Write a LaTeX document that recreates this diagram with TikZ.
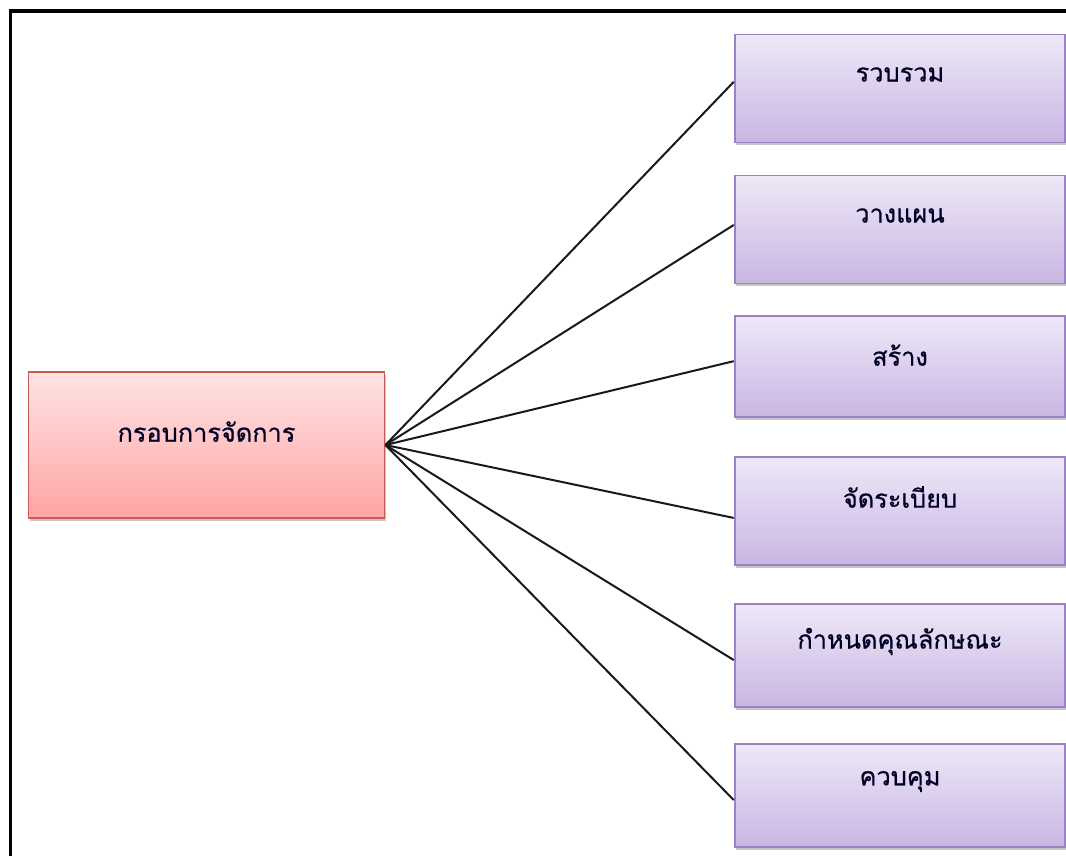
\documentclass[tikz,border=0pt]{standalone}
\usepackage{fontspec}
\newfontfamily\thaifont[Script=Thai, FakeBold=0.6]{Loma}
\usetikzlibrary{shadows}
\definecolor{purpletop}{HTML}{EEE8F7}
\definecolor{purplebot}{HTML}{C9B6E3}
\definecolor{purpleline}{HTML}{9A82C4}
\definecolor{redtop}{HTML}{FFE3E3}
\definecolor{redbot}{HTML}{FFA5A5}
\definecolor{redline}{HTML}{C85A58}
\tikzset{
  stagebox/.style={rectangle, draw=purpleline, line width=1.4pt,
    top color=purpletop, bottom color=purplebot,
    minimum width=248pt, minimum height=79pt, inner sep=0pt,
    drop shadow={shadow xshift=1.3pt, shadow yshift=-2.2pt, opacity=0.45}},
  rootbox/.style={rectangle, draw=redline, line width=1.4pt,
    top color=redtop, bottom color=redbot,
    minimum width=267pt, minimum height=109pt, inner sep=0pt,
    drop shadow={shadow xshift=1.3pt, shadow yshift=-2.2pt, opacity=0.45}},
  boxtext/.style={font=\thaifont\fontsize{19}{22}\selectfont, text=black!85!blue},
  link/.style={draw=black!90, line width=1.5pt}
}
\begin{document}
\begin{tikzpicture}[x=0.75pt, y=-0.75pt]
  \useasboundingbox (0,0) rectangle (1066,856);
  % outer frame, open on the right and at the bottom
  \draw[line width=2.4pt] (10.5,856) -- (10.5,11) -- (1066,11);

  % root box
  \node[rootbox, label={[boxtext, yshift=10pt]center:กรอบการจัดการ}] (root) at (206.5,445) {};

  % stage boxes
  \node[stagebox, minimum height=81pt, label={[boxtext, yshift=10.5pt]center:รวบรวม}] (b1) at (900,88.5) {};
  \node[stagebox, minimum height=81pt, label={[boxtext, yshift=10.5pt]center:วางแผน}] (b2) at (900,229.5) {};
  \node[stagebox, minimum height=76pt, label={[boxtext, yshift=8.5pt]center:สร้าง}] (b3) at (900,366.5) {};
  \node[stagebox, minimum height=81pt, label={[boxtext, yshift=10.5pt]center:จัดระเบียบ}] (b4) at (900,511) {};
  \node[stagebox, minimum height=77pt, label={[boxtext, yshift=10.5pt]center:กำหนดคุณลักษณะ}] (b5) at (900,655.5) {};
  \node[stagebox, minimum height=77pt, label={[boxtext, yshift=10.5pt]center:ควบคุม}] (b6) at (900,795.5) {};

  % connectors fanning out from the root
  \coordinate (hub) at (root.east);
  \draw[link] (hub) -- ([yshift=5pt]b1.west);
  \draw[link] (hub) -- ([yshift=3.4pt]b2.west);
  \draw[link] (hub) -- ([yshift=4pt]b3.west);
  \draw[link] (hub) -- ([yshift=-5.2pt]b4.west);
  \draw[link] (hub) -- ([yshift=-3.4pt]b5.west);
  \draw[link] (hub) -- ([yshift=-3.4pt]b6.west);
\end{tikzpicture}
\end{document}
